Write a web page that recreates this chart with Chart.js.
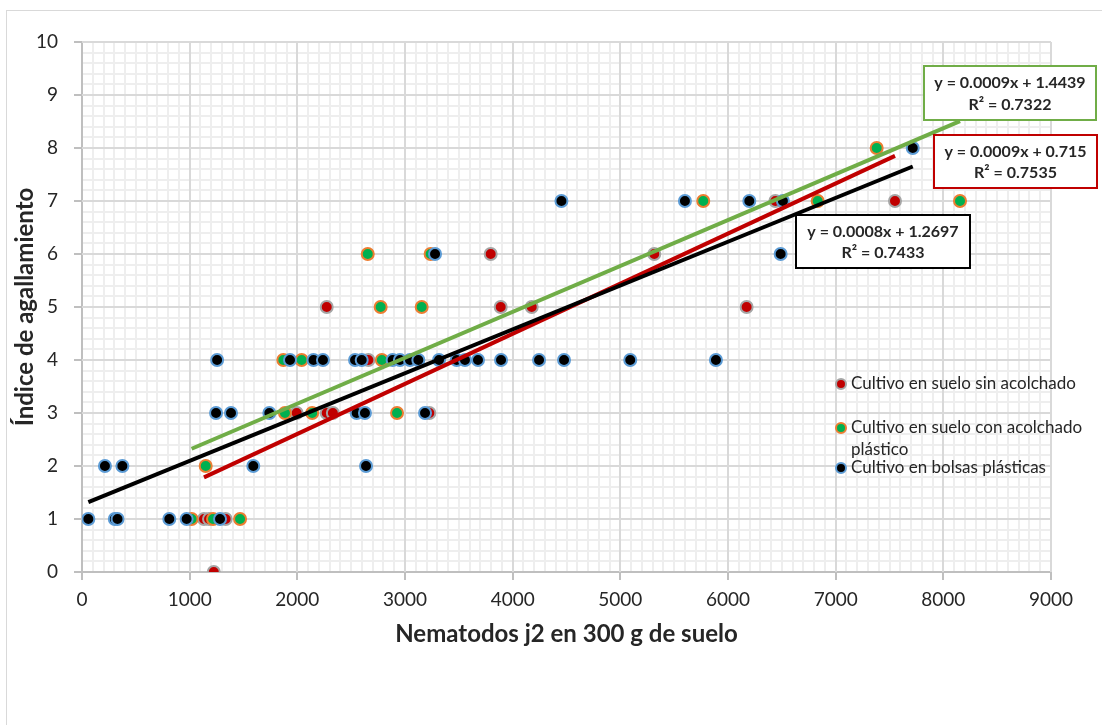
<!DOCTYPE html>
<html lang="es">
<head>
<meta charset="utf-8">
<title>Índice de agallamiento vs nematodos j2</title>
<script src="https://cdn.jsdelivr.net/npm/chart.js@4.4.1/dist/chart.umd.min.js"></script>
<style>
  html, body { margin: 0; padding: 0; background: #ffffff; }
  #frame {
    position: absolute; left: 6px; top: 10px; width: 1200px; height: 800px;
    border-left: 1px solid #d9d9d9; border-top: 1px solid #d9d9d9;
  }
  #c { position: absolute; left: 0; top: 0; }
</style>
</head>
<body>
<div id="frame"></div>
<canvas id="c" width="1102" height="725"></canvas>
<script>
// Cultivo en suelo sin acolchado
const xSinAcolchado = [1224, 1133, 1180, 1334, 1994, 2273, 2330, 3226, 2660, 2273, 3889, 4177, 6173, 3796, 5315, 6440, 7551];
const ySinAcolchado = [0, 1, 1, 1, 3, 3, 3, 3, 4, 5, 5, 5, 5, 6, 6, 7, 7];

// Cultivo en suelo con acolchado plástico
const xConAcolchado = [1018, 1217, 1468, 1149, 1885, 2138, 2926, 1870, 2040, 2785, 2774, 3155, 2654, 3238, 5770, 6833, 7381, 8155];
const yConAcolchado = [1, 1, 1, 2, 3, 3, 3, 4, 4, 4, 5, 5, 6, 6, 7, 7, 8, 7];

// Cultivo en bolsas plásticas
const xBolsas = [59, 305, 330, 811, 972, 1282,
                 213, 375, 1591, 2638,
                 1245, 1384, 1740, 2551, 2628, 3186,
                 1255, 1932, 2150, 2238, 2536, 2598, 2885, 2953, 3046, 3124, 3316, 3480, 3557, 3678, 3892, 4245, 4477, 5092, 5888,
                 3279, 6489,
                 4453, 5600, 6198, 6510,
                 7716];
const yBolsas = [1, 1, 1, 1, 1, 1,
                 2, 2, 2, 2,
                 3, 3, 3, 3, 3, 3,
                 4, 4, 4, 4, 4, 4, 4, 4, 4, 4, 4, 4, 4, 4, 4, 4, 4, 4, 4,
                 6, 6,
                 7, 7, 7, 7,
                 8];

// Linear trend lines (sin acolchado, con acolchado, bolsas)
const seriesNames = ['Cultivo en suelo sin acolchado', 'Cultivo en suelo con acolchado plástico', 'Cultivo en bolsas plásticas'];
const trendSlope = [0.000945, 0.000866, 0.000827];
const trendIntercept = [0.715, 1.4439, 1.2697];
const trendR2 = [0.7535, 0.7322, 0.7433];

// Axis ticks
const xTickLabels = [0, 1000, 2000, 3000, 4000, 5000, 6000, 7000, 8000, 9000];
const yTickLabels = [0, 1, 2, 3, 4, 5, 6, 7, 8, 9, 10];

const FONT = 'Lato, "Open Sans", "DejaVu Sans", sans-serif';
const TEXT = '#262626';

const toPoints = (xs, ys) => xs.map((x, i) => ({ x: x, y: ys[i] }));
const trendPoints = (k, xs) => {
  const x0 = Math.min(...xs), x1 = Math.max(...xs);
  return [{ x: x0, y: trendIntercept[k] + trendSlope[k] * x0 },
          { x: x1, y: trendIntercept[k] + trendSlope[k] * x1 }];
};

const style = [
  { fill: '#c00000', ring: '#a5a5a5', line: '#c00000' },
  { fill: '#00b050', ring: '#ed7d31', line: '#70ad47' },
  { fill: '#000000', ring: '#5b9bd5', line: '#000000' }
];

const isMajorX = v => xTickLabels.includes(Math.round(v));
const isMajorY = v => yTickLabels.some(t => Math.abs(t - v) < 1e-6);

// Major gridlines drawn over the minor ones so crossings stay continuous
const majorGrid = {
  id: 'majorGrid',
  beforeDatasetsDraw(chart) {
    const { ctx, chartArea: a, scales: { x, y } } = chart;
    ctx.save();
    ctx.strokeStyle = '#d9d9d9';
    ctx.lineWidth = 2;
    ctx.beginPath();
    xTickLabels.forEach(v => {
      if (v === 0) return;
      const px = Math.round(x.getPixelForValue(v));
      ctx.moveTo(px, a.top); ctx.lineTo(px, a.bottom);
    });
    yTickLabels.forEach(v => {
      if (v === 0) return;
      const py = Math.round(y.getPixelForValue(v));
      ctx.moveTo(a.left, py); ctx.lineTo(a.right, py);
    });
    ctx.stroke();
    ctx.restore();
  }
};

// Axis titles
const axisTitles = {
  id: 'axisTitles',
  afterDraw(chart) {
    const { ctx, chartArea: a } = chart;
    ctx.save();
    ctx.fillStyle = TEXT;
    ctx.font = 'bold 24px ' + FONT;
    ctx.textAlign = 'center';
    ctx.textBaseline = 'middle';
    ctx.fillText('Nematodos j2 en 300 g de suelo', (a.left + a.right) / 2, a.bottom + 62);
    ctx.translate(25, (a.top + a.bottom) / 2);
    ctx.rotate(-Math.PI / 2);
    ctx.fillText('Índice de agallamiento', 0, 0);
    ctx.restore();
  }
};

// Trend line equation boxes
const eqBoxes = [
  { k: 0, left: 934, top: 135, right: 1097, bottom: 188 },
  { k: 1, left: 924, top: 66, right: 1096, bottom: 120 },
  { k: 2, left: 796, top: 215, right: 970, bottom: 268 }
];
const equations = {
  id: 'equations',
  afterDraw(chart) {
    const { ctx } = chart;
    ctx.save();
    eqBoxes.forEach(b => {
      const k = b.k;
      ctx.fillStyle = '#ffffff';
      ctx.fillRect(b.left, b.top, b.right - b.left, b.bottom - b.top);
      ctx.strokeStyle = k === 1 ? style[1].line : style[k].fill;
      ctx.lineWidth = 2;
      ctx.strokeRect(b.left, b.top, b.right - b.left, b.bottom - b.top);
      ctx.fillStyle = TEXT;
      ctx.font = 'bold 16px ' + FONT;
      ctx.textAlign = 'center';
      ctx.textBaseline = 'middle';
      const cx = (b.left + b.right) / 2;
      const h = b.bottom - b.top;
      ctx.fillText('y = ' + trendSlope[k].toFixed(4) + 'x + ' + trendIntercept[k], cx, b.top + h * 0.32);
      ctx.fillText('R² = ' + trendR2[k].toFixed(4), cx, b.top + h * 0.72);
    });
    ctx.restore();
  }
};

// Legend drawn inside the plot area
const legendItems = [
  { k: 0, y: 384, lines: ['Cultivo en suelo sin acolchado'] },
  { k: 1, y: 428, lines: ['Cultivo en suelo con acolchado', 'plástico'] },
  { k: 2, y: 468, lines: ['Cultivo en bolsas plásticas'] }
];
const legendBox = {
  id: 'legendBox',
  afterDraw(chart) {
    const { ctx } = chart;
    ctx.save();
    legendItems.forEach(it => {
      ctx.beginPath();
      ctx.arc(841, it.y, 5, 0, Math.PI * 2);
      ctx.fillStyle = style[it.k].fill;
      ctx.fill();
      ctx.lineWidth = 2;
      ctx.strokeStyle = style[it.k].ring;
      ctx.stroke();
      ctx.fillStyle = TEXT;
      ctx.font = '17px ' + FONT;
      ctx.textAlign = 'left';
      ctx.textBaseline = 'middle';
      it.lines.forEach((t, i) => ctx.fillText(t, 851, it.y + i * 21.5));
    });
    ctx.restore();
  }
};

const scatterSet = (k, xs, ys, order) => ({
  label: seriesNames[k],
  data: toPoints(xs, ys),
  backgroundColor: style[k].fill,
  borderColor: style[k].ring,
  borderWidth: 2,
  pointRadius: 6,
  pointHoverRadius: 6,
  order: order
});
const trendSet = (k, xs, order) => ({
  label: 'Lineal (' + seriesNames[k] + ')',
  data: trendPoints(k, xs),
  showLine: true,
  borderColor: style[k].line,
  borderWidth: 4,
  pointRadius: 0,
  pointHoverRadius: 0,
  fill: false,
  order: order
});

new Chart(document.getElementById('c'), {
  type: 'scatter',
  data: {
    datasets: [
      scatterSet(0, xSinAcolchado, ySinAcolchado, 6),
      scatterSet(1, xConAcolchado, yConAcolchado, 5),
      scatterSet(2, xBolsas, yBolsas, 4),
      trendSet(0, xSinAcolchado, 3),
      trendSet(1, xConAcolchado, 2),
      trendSet(2, xBolsas, 1)
    ]
  },
  options: {
    responsive: false,
    animation: false,
    events: [],
    layout: { padding: { top: 42, right: 51, left: 0, bottom: 0 } },
    plugins: { legend: { display: false }, tooltip: { enabled: false } },
    scales: {
      x: {
        type: 'linear', min: 0, max: 9000,
        afterFit: s => { s.height = 153; },
        border: { color: '#bfbfbf', width: 2 },
        grid: {
          color: c => isMajorX(c.tick.value) ? 'rgba(0,0,0,0)' : '#eeeeee',
          lineWidth: 2,
          tickLength: 8,
          tickColor: c => isMajorX(c.tick.value) ? '#bfbfbf' : 'rgba(0,0,0,0)',
          tickWidth: 2
        },
        ticks: {
          stepSize: 100, autoSkip: false, maxRotation: 0, minRotation: 0,
          padding: 8, color: TEXT, font: { family: FONT, size: 19 },
          callback: v => isMajorX(v) ? String(Math.round(v)) : ''
        }
      },
      y: {
        type: 'linear', min: 0, max: 10,
        afterFit: s => { s.width = 82; },
        border: { color: '#bfbfbf', width: 2 },
        grid: {
          color: c => isMajorY(c.tick.value) ? 'rgba(0,0,0,0)' : '#eeeeee',
          lineWidth: 2,
          tickLength: 8,
          tickColor: c => isMajorY(c.tick.value) ? '#bfbfbf' : 'rgba(0,0,0,0)',
          tickWidth: 2
        },
        ticks: {
          stepSize: 0.2, autoSkip: false,
          padding: 16, color: TEXT, font: { family: FONT, size: 19 },
          callback: v => isMajorY(v) ? String(Math.round(v)) : ''
        }
      }
    }
  },
  plugins: [majorGrid, axisTitles, equations, legendBox]
});
</script>
</body>
</html>
